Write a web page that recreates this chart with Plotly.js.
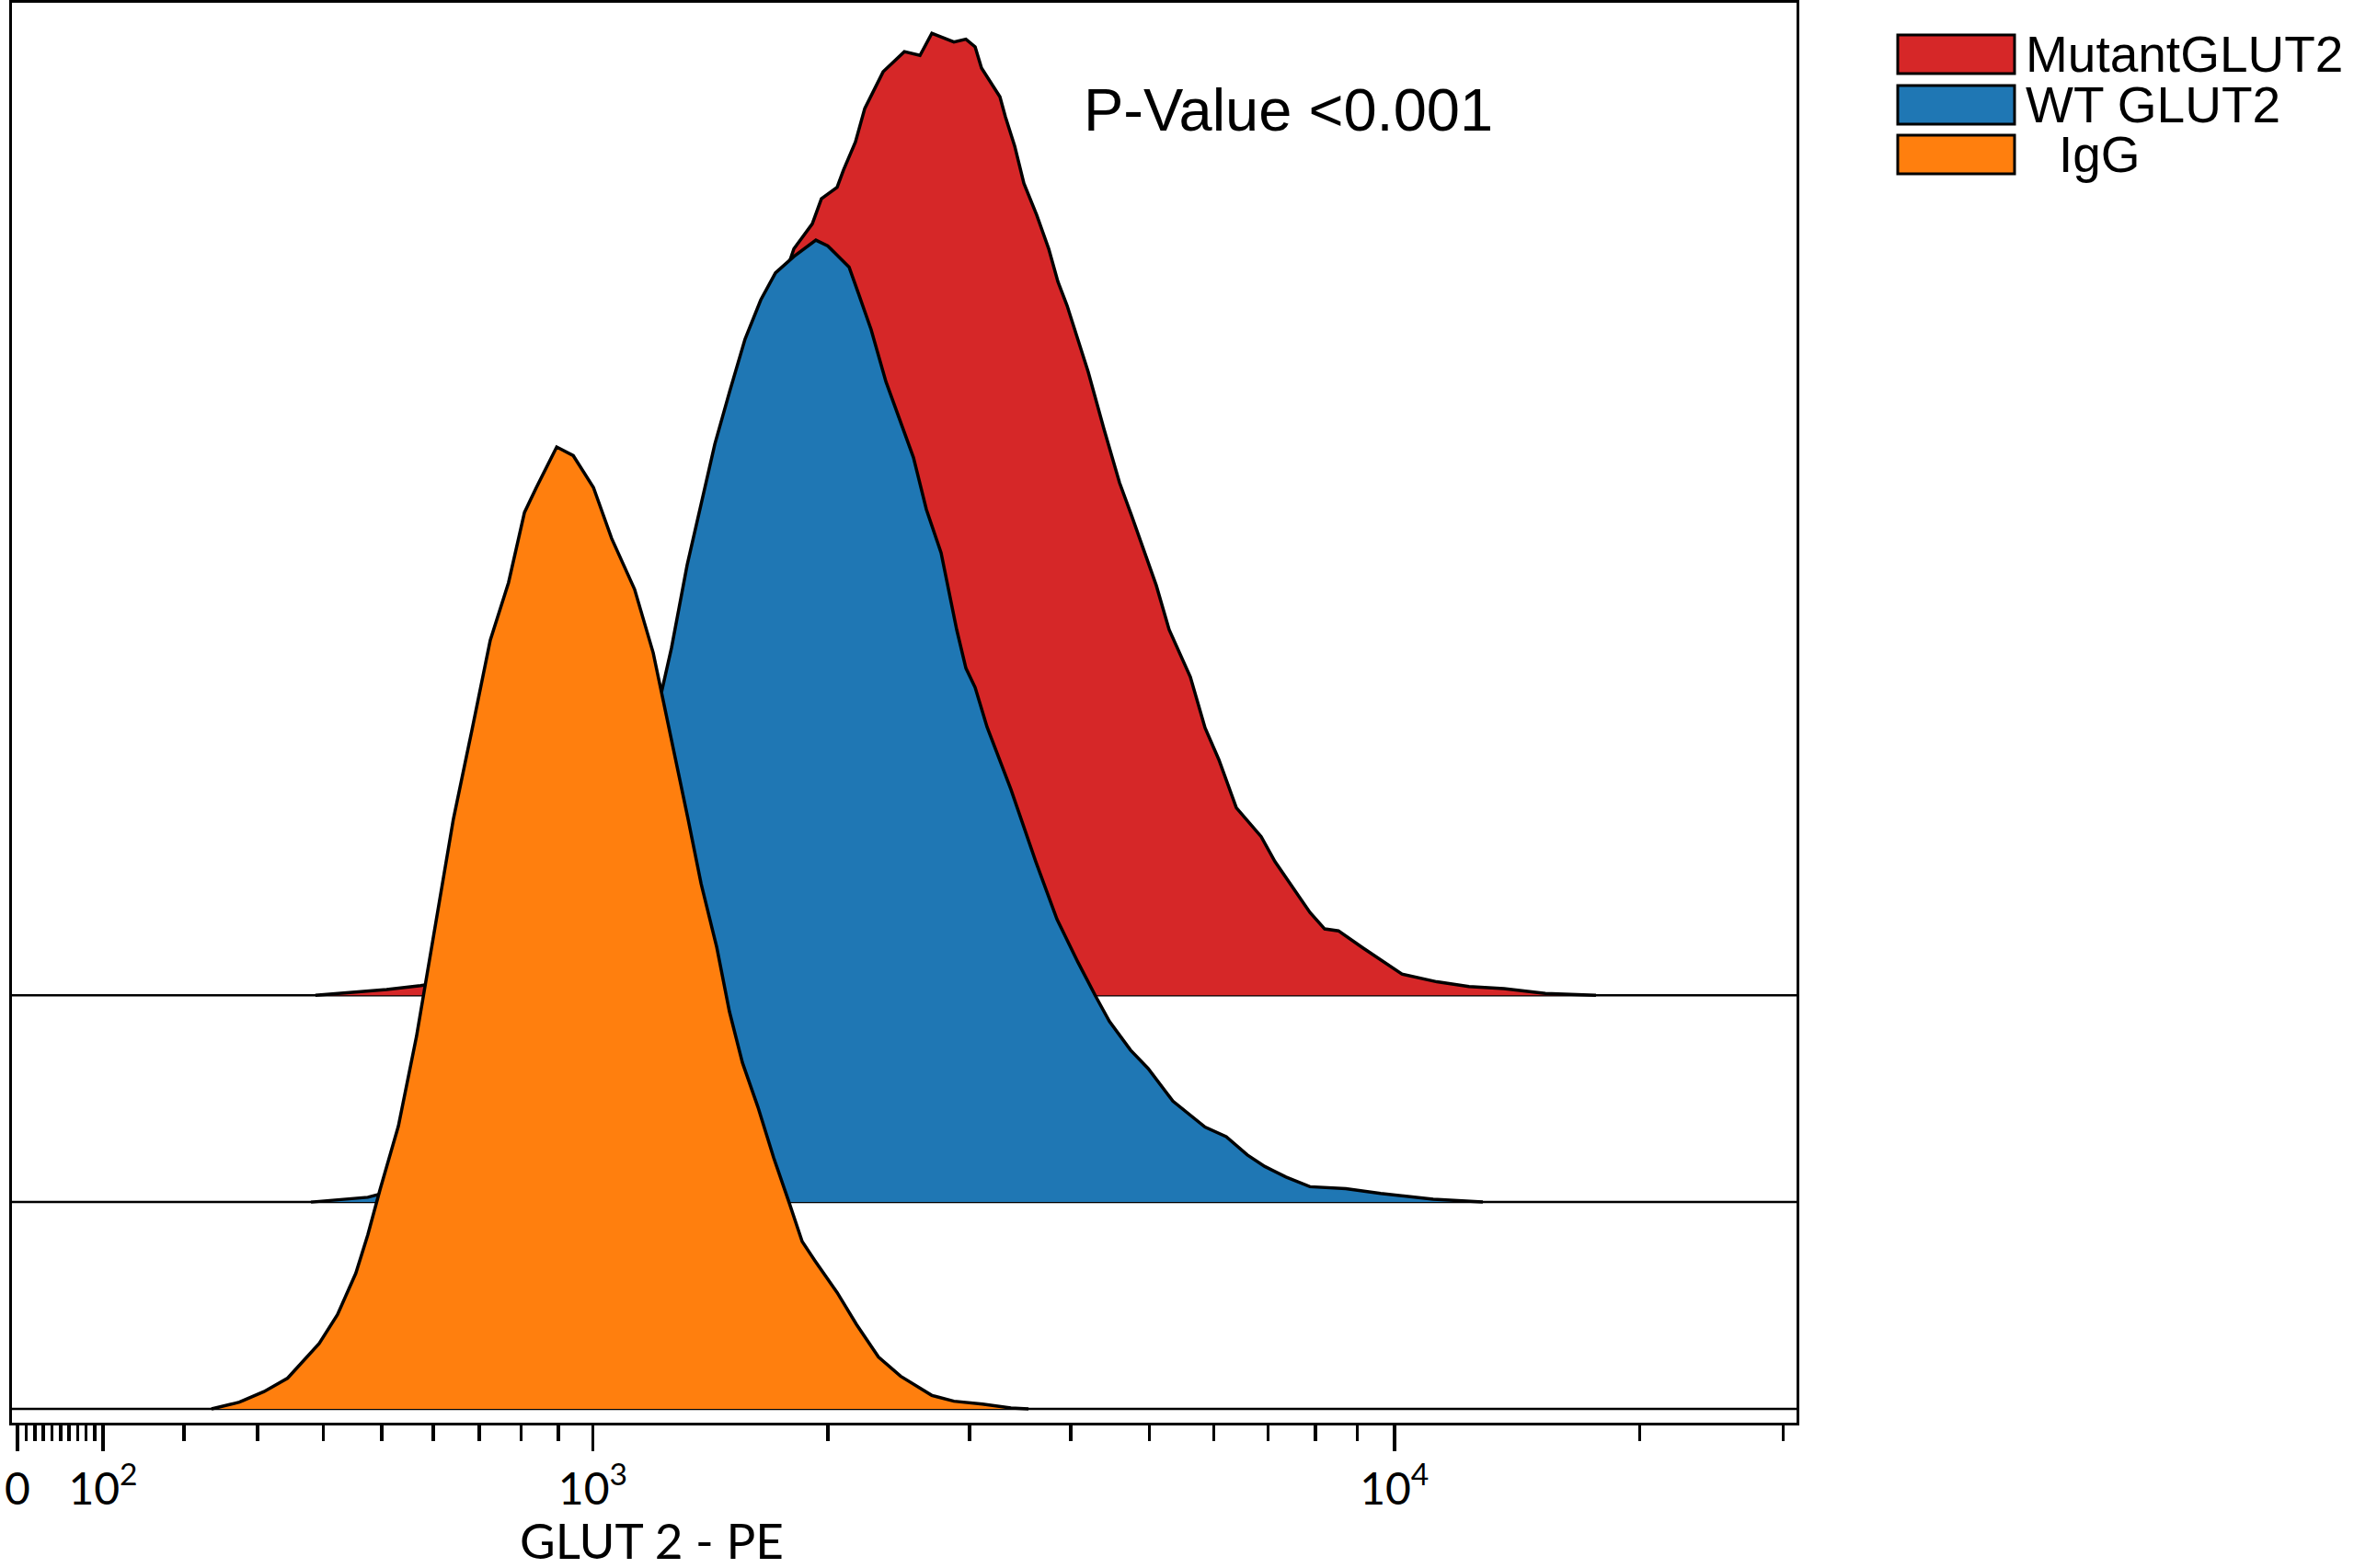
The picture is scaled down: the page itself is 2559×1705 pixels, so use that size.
<!DOCTYPE html>
<html>
<head>
<meta charset="utf-8">
<script src="https://cdn.plot.ly/plotly-3.0.1.min.js"></script>
<style>
  html, body { margin: 0; padding: 0; background: #fff; }
  #hist { width: 2559px; height: 1705px; }
</style>
</head>
<body>
<div id="hist"></div>
<script>
// Overlaid, offset histograms (% of mode) on a biexponential-like axis
var names = ['MutantGLUT2', 'WT GLUT2', 'IgG'];
var colors = ['#d62728', '#1f77b4', '#ff7f0e'];
var offsets = [43.0, 21.5, 0];   // vertical offset of each histogram, % units

// GLUT2-PE intensity (raw channel values) and % of max
var mutant_x = [387, 443, 509, 574, 656, 740, 832, 934, 1016, 1104,
    1167, 1226, 1267, 1327, 1386, 1440, 1503, 1573, 1647, 1719,
    1813, 1912, 1963, 2054, 2092, 2165, 2224, 2344, 2491, 2605,
    2695, 2870, 2970, 3049, 3105, 3272, 3324, 3412, 3503, 3633,
    3759, 3858, 3960, 4065, 4205, 4396, 4595, 4754, 4917, 5100,
    5289, 5616, 5855, 6088, 6397, 6862, 7135, 7497, 7878, 8212,
    8539, 9159, 10217, 11277, 12350, 13632, 15323, 17675];
var mutant_y = [0, 0.3, 0.6, 1.0, 1.6, 2.5, 4, 6.5, 10, 15,
    19, 22.5, 27, 34, 41, 47, 54, 61, 67, 72,
    77.6, 80.2, 82.8, 84.0, 85.8, 88.7, 92.2, 96.0, 98.1, 97.7,
    100, 99.1, 99.4, 98.6, 96.4, 93.4, 91.3, 88.3, 84.4, 81.1,
    77.6, 74.2, 71.7, 68.6, 64.8, 58.9, 53.3, 49.9, 46.5, 42.6,
    38, 33.1, 27.8, 24.5, 19.5, 16.5, 13.9, 11.3, 8.6, 6.9,
    6.7, 4.9, 2.2, 1.4, 0.9, 0.7, 0.2, 0];

var wt_x = [380, 428, 475, 543, 617, 697, 785, 882, 988, 1104,
    1167, 1226, 1267, 1327, 1386, 1440, 1503, 1573, 1647, 1719,
    1813, 1932, 2000, 2126, 2183, 2265, 2363, 2471, 2557, 2653,
    2767, 2893, 2970, 3049, 3154, 3376, 3623, 3848, 4086, 4294,
    4465, 4741, 4982, 5345, 5855, 6216, 6600, 6934, 7362, 7878,
    8718, 9624, 11160, 12841];
var wt_y = [0, 0.3, 0.5, 1.5, 3, 6, 11, 19, 30, 42,
    47, 52.5, 57.6, 66.2, 72.9, 78.8, 84.2, 89.7, 93.8, 96.6,
    98.3, 100, 99.4, 97.2, 94.5, 90.7, 85.3, 80.9, 77.4, 72.0,
    67.5, 59.5, 55.5, 53.5, 49.4, 42.9, 35.4, 29.4, 24.9, 21.4,
    18.8, 15.8, 13.9, 10.5, 7.8, 6.8, 4.9, 3.7, 2.6, 1.6,
    1.4, 0.9, 0.3, 0];

var igg_x = [236, 274, 309, 344, 393, 423, 454, 475, 497, 531,
    566, 585, 611, 642, 683, 725, 769, 809, 840, 895,
    942, 1002, 1059, 1135, 1200, 1271, 1331, 1383, 1448, 1503,
    1561, 1633, 1710, 1789, 1857, 1927, 2054, 2171, 2313, 2464,
    2695, 2870, 3113, 3376, 3549];
var igg_y = [0, 0.7, 1.8, 3.2, 6.8, 9.8, 14.1, 18.1, 22.8, 29.4,
    38.7, 44.6, 52.0, 61.3, 70.6, 79.9, 85.9, 93.2, 95.8, 100,
    99.1, 95.8, 90.5, 85.2, 78.6, 69.2, 61.3, 54.6, 48.0, 41.3,
    36.0, 31.4, 26.1, 21.4, 17.4, 15.4, 12.1, 8.8, 5.4, 3.4,
    1.4, 0.8, 0.5, 0.1, 0];

var major_ticks = [0, 100, 1000, 10000];
var major_labels = ['0', '10<sup>2</sup>', '10<sup>3</sup>', '10<sup>4</sup>'];
var minor_ticks = [10, 20, 30, 40, 50, 60, 70, 80, 90,
    200, 300, 400, 500, 600, 700, 800, 900,
    2000, 3000, 4000, 5000, 6000, 7000, 8000, 9000,
    20000, 30000];

var pvalue_text = 'P-Value &lt;0.001';
var x_label = 'GLUT 2 - PE';

// arcsinh display transform (linear near 0, log for large values)
var W = 410;
function scale(v) { return Math.asinh(v / W); }

// pixel helpers for the page-placed items (plot box: x 13..1953, y 3..1547)
function px(x) { return (x - 13) / 1940; }
function py(y) { return (1547 - y) / 1544; }

var series = [[mutant_x, mutant_y], [wt_x, wt_y], [igg_x, igg_y]];

var data = series.map(function(s, i) {
    return {
        x: s[0].map(scale),
        y: s[1].map(function(p) { return p + offsets[i]; }),
        mode: 'lines',
        type: 'scatter',
        name: names[i],
        fill: 'toself',
        fillcolor: colors[i],
        line: {color: 'black', width: 3.5},
        hoverinfo: 'skip'
    };
});

var shapes = offsets.map(function(o) {
    return {
        type: 'line', layer: 'below',
        xref: 'paper', x0: 0, x1: 1,
        yref: 'y', y0: o, y1: o,
        line: {color: 'black', width: 2.5}
    };
});

var box_top = [38, 93, 147];
var annotations = [];
names.forEach(function(n, i) {
    shapes.push({
        type: 'rect', xref: 'paper', yref: 'paper',
        x0: px(2063), x1: px(2190),
        y0: py(box_top[i]), y1: py(box_top[i] + 42),
        fillcolor: colors[i],
        line: {color: 'black', width: 3}
    });
    annotations.push({
        xref: 'paper', yref: 'paper',
        x: px(i == 2 ? 2236 : 2200), y: py(box_top[i] + 21),
        xanchor: 'left', yanchor: 'middle',
        text: n, showarrow: false,
        font: {family: 'Liberation Sans, Arial, sans-serif', size: 55, color: 'black'}
    });
});

annotations.push({
    xref: 'paper', yref: 'paper',
    x: px(1176), y: py(119),
    xanchor: 'left', yanchor: 'middle',
    text: pvalue_text, showarrow: false,
    font: {family: 'Liberation Sans, Arial, sans-serif', size: 65, color: 'black'}
});
annotations.push({
    xref: 'paper', yref: 'paper',
    x: px(708), y: py(1674),
    xanchor: 'center', yanchor: 'middle',
    text: x_label, showarrow: false,
    font: {family: 'Lato, sans-serif', size: 53, color: 'black'}
});

var layout = {
    width: 2559,
    height: 1705,
    margin: {l: 13, r: 606, t: 3, b: 158, pad: 0},
    paper_bgcolor: 'white',
    plot_bgcolor: 'white',
    showlegend: false,
    xaxis: {
        range: [-0.0156, 5.0234],
        showgrid: false,
        zeroline: false,
        showline: true,
        mirror: true,
        linecolor: 'black',
        linewidth: 3,
        ticks: 'outside',
        ticklen: 28,
        tickwidth: 3.5,
        tickcolor: 'black',
        tickmode: 'array',
        tickvals: major_ticks.map(scale),
        ticktext: major_labels,
        tickfont: {family: 'Lato, sans-serif', size: 48, color: 'black'},
        minor: {
            tickmode: 'array',
            tickvals: minor_ticks.map(scale),
            ticks: 'outside',
            ticklen: 17,
            tickwidth: 3.5,
            tickcolor: 'black',
            showgrid: false
        }
    },
    yaxis: {
        range: [-1.434, 146.18],
        showgrid: false,
        zeroline: false,
        showline: true,
        mirror: true,
        linecolor: 'black',
        linewidth: 3,
        ticks: '',
        showticklabels: false
    },
    shapes: shapes,
    annotations: annotations
};

Plotly.newPlot(document.getElementById('hist'), data, layout, {displayModeBar: false, staticPlot: true});
</script>
</body>
</html>
